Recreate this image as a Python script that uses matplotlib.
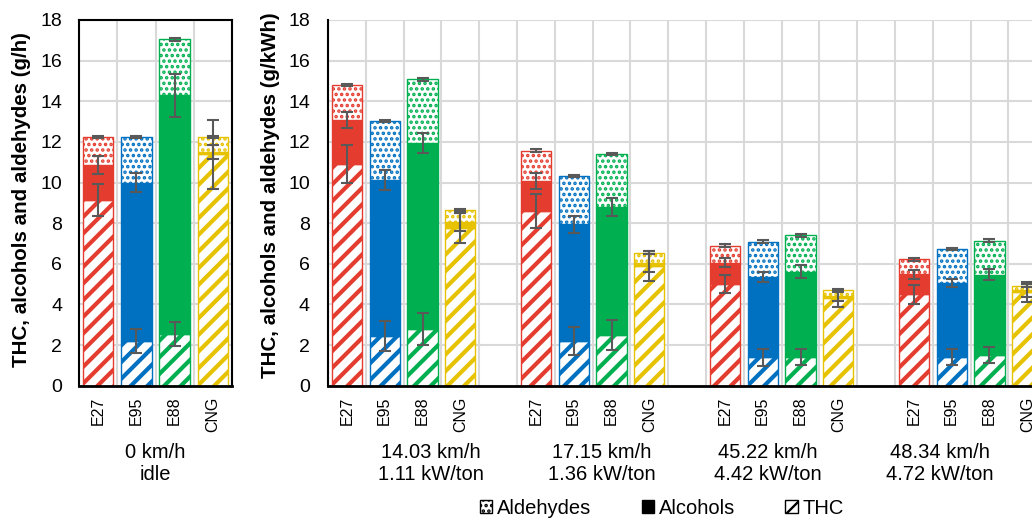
import matplotlib
matplotlib.use("Agg")
import matplotlib.pyplot as plt
from matplotlib.patches import Patch
import numpy as np

plt.rcParams["font.family"] = ["Liberation Sans", "DejaVu Sans"]

fuels = ["E27", "E95", "E88", "CNG"]
colors = ["#E43D30", "#0070C0", "#00B050", "#E6C200"]

# idle, g/h -- stacked components per fuel
idle_thc = [9.15, 2.2, 2.55, 11.4]
idle_alc = [1.7, 7.8, 11.75, 0.1]
idle_ald = [1.4, 2.25, 2.75, 0.75]
idle_thc_err = [0.8, 0.6, 0.6, 1.7]
idle_alc_err = [0.45, 0.48, 1.05, 0.35]
idle_ald_err = [0.05, 0.05, 0.07, 0.05]

# driving conditions, g/kWh -- one row per condition, columns follow `fuels`
speeds = ["14.03 km/h", "17.15 km/h", "45.22 km/h", "48.34 km/h"]
powers = ["1.11 kW/ton", "1.36 kW/ton", "4.42 kW/ton", "4.72 kW/ton"]
thc = [[10.9, 2.45, 2.77, 7.75],
       [8.61, 2.21, 2.5, 5.9],
       [5.0, 1.4, 1.43, 4.3],
       [4.51, 1.4, 1.51, 4.6]]
alc = [[2.18, 7.67, 9.16, 0.3],
       [1.46, 5.73, 6.31, 0.15],
       [1.05, 3.96, 4.17, 0.1],
       [0.97, 3.64, 3.94, 0.1]]
ald = [[1.72, 2.92, 3.15, 0.6],
       [1.5, 2.39, 2.59, 0.5],
       [0.84, 1.73, 1.8, 0.31],
       [0.74, 1.69, 1.69, 0.23]]
thc_err = [[0.93, 0.72, 0.79, 0.75],
           [0.85, 0.7, 0.73, 0.73],
           [0.45, 0.41, 0.4, 0.41],
           [0.47, 0.4, 0.4, 0.5]]
alc_err = [[0.4, 0.48, 0.49, 0.45],
           [0.4, 0.4, 0.45, 0.44],
           [0.22, 0.26, 0.32, 0.22],
           [0.22, 0.2, 0.27, 0.32]]
ald_err = [[0.06, 0.06, 0.07, 0.06],
           [0.06, 0.06, 0.06, 0.06],
           [0.06, 0.06, 0.06, 0.06],
           [0.06, 0.06, 0.06, 0.06]]

GRID = "#D9D9D9"
ERR = "#595959"
BAR_W = 0.8
THC_HATCH = "//"
ALD_HATCH = "..."


def draw_stack(ax, x, t, a, d, te, ae, de, c):
    t, a, d = np.asarray(t), np.asarray(a), np.asarray(d)
    plt.rcParams["hatch.linewidth"] = 3.0
    ax.bar(x, t, BAR_W, color="white", edgecolor=c, hatch=THC_HATCH, linewidth=1, zorder=2)
    ax.bar(x, a, BAR_W, bottom=t, color=c, edgecolor=c, linewidth=1, zorder=2)
    plt.rcParams["hatch.linewidth"] = 1.7
    ax.bar(x, d, BAR_W, bottom=t + a, color="white", edgecolor=c, hatch=ALD_HATCH, linewidth=1, zorder=2)
    tops = [t, t + a, t + a + d]
    for top, err in zip(tops, [te, ae, de]):
        ax.errorbar(x, top, yerr=err, fmt="none", ecolor=ERR, elinewidth=1.5,
                    capsize=4, capthick=1.5, zorder=3)


def style_axes(ax, n, pad):
    ax.set_ylim(0, 18)
    ax.set_yticks(np.arange(0, 19, 2))
    ax.set_xlim(-0.5, n - 0.5)
    ax.set_xticks(np.arange(-0.5, n, 1), minor=True)
    ax.set_axisbelow(True)
    ax.grid(axis="y", which="major", color=GRID, linewidth=1.5)
    ax.grid(axis="x", which="minor", color=GRID, linewidth=1.5)
    ax.tick_params(axis="y", length=0, pad=pad, labelsize=14)
    ax.tick_params(axis="x", which="both", length=0, pad=8, labelsize=11.5, labelrotation=90)


fig = plt.figure(figsize=(10.32, 5.19), dpi=100)

# ---- idle panel ----
axl = fig.add_axes([79 / 1032, 1 - 385.7 / 519, 153 / 1032, 365.7 / 519])
style_axes(axl, 4, 12)
for i, c in enumerate(colors):
    draw_stack(axl, [i], [idle_thc[i]], [idle_alc[i]], [idle_ald[i]],
               [idle_thc_err[i]], [idle_alc_err[i]], [idle_ald_err[i]], c)
axl.set_xticks(range(4))
axl.set_xticklabels(fuels)
for s in axl.spines.values():
    s.set_color("black")
    s.set_linewidth(1.5)
axl.spines["bottom"].set_linewidth(2)
fig.text(155.5 / 1032, 1 - 452 / 519, "0 km/h", ha="center", va="center", fontsize=14.5)
fig.text(155.5 / 1032, 1 - 474 / 519, "idle", ha="center", va="center", fontsize=14.5)

# ---- driving panel: 4 fuels + one empty slot per condition ----
n_cat = 19
axr = fig.add_axes([328 / 1032, 1 - 385.7 / 519, 19 * 37.8 / 1032, 365.7 / 519])
style_axes(axr, n_cat, 13)
pos, labels = [], []
for g in range(len(speeds)):
    for i in range(4):
        pos.append(g * 5 + i)
        labels.append(fuels[i])
for i, c in enumerate(colors):
    xs = [g * 5 + i for g in range(len(speeds))]
    draw_stack(axr, xs,
               [row[i] for row in thc], [row[i] for row in alc], [row[i] for row in ald],
               [row[i] for row in thc_err], [row[i] for row in alc_err],
               [row[i] for row in ald_err], c)
axr.set_xticks(pos)
axr.set_xticklabels(labels)
for side in ("top", "right"):
    axr.spines[side].set_visible(False)
axr.spines["left"].set_color("black")
axr.spines["left"].set_linewidth(1.5)
axr.spines["bottom"].set_color("black")
axr.spines["bottom"].set_linewidth(2)

group_x = [2.22, 6.74, 11.14, 15.68]
for gx, sp, pw in zip(group_x, speeds, powers):
    xf = (328 + (gx + 0.5) * 37.8) / 1032
    fig.text(xf, 1 - 452 / 519, sp, ha="center", va="center", fontsize=14.5)
    fig.text(xf, 1 - 474 / 519, pw, ha="center", va="center", fontsize=14.5)

fig.text(22 / 1032, 1 - 200 / 519, "THC, alcohols and aldehydes (g/h)",
         rotation=90, ha="center", va="center", fontsize=14.8, fontweight="bold")
fig.text(270 / 1032, 1 - 195 / 519, "THC, alcohols and aldehydes (g/kWh)",
         rotation=90, ha="center", va="center", fontsize=14.8, fontweight="bold")

plt.rcParams["hatch.linewidth"] = 1.7
handles = [Patch(facecolor="white", edgecolor="black", hatch=ALD_HATCH),
           Patch(facecolor="black", edgecolor="black"),
           Patch(facecolor="white", edgecolor="black", hatch=THC_HATCH)]
fig.legend(handles, ["Aldehydes", "Alcohols", "THC"], loc="center",
           bbox_to_anchor=(662 / 1032, 1 - 508 / 519), ncol=3, frameon=False,
           fontsize=14.5, handlelength=0.6, handleheight=0.6, handletextpad=0.25,
           columnspacing=2.5, borderpad=0)

fig.savefig("out.png", dpi=100)
